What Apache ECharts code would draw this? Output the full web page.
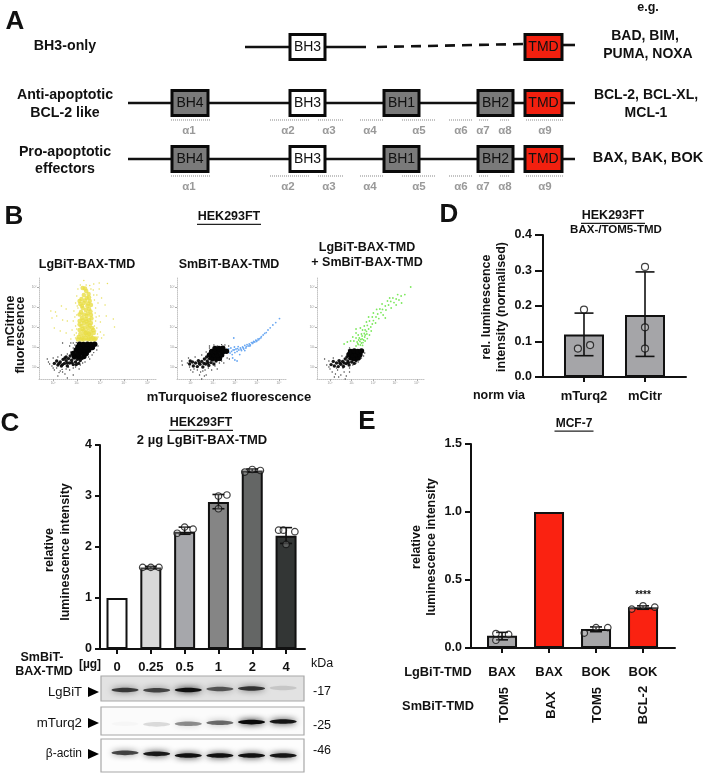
<!DOCTYPE html>
<html><head><meta charset="utf-8">
<style>html,body{margin:0;padding:0;background:#fff}#c{width:705px;height:774px}</style>
<script src="https://cdn.jsdelivr.net/npm/echarts@6/dist/echarts.min.js"></script>
</head><body><div id="c"></div>
<script>
// ---- Panel C
const doseLabels = ['0','0.25','0.5','1','2','4'];
const meansC = [1,1.6,2.3,2.88,3.5,2.22];
const lowC   = [1,1.58,2.25,2.75,3.47,2.07];
const highC  = [1,1.62,2.39,3.03,3.53,2.38];
const colorsC = ['#ffffff','#d9d9d9','#a6a7ab','#858585','#646665','#333635'];
const pointsC = [[0.76,1.6],[1,1.6],[1.24,1.6],[1.78,2.27],[2,2.39],[2.25,2.35],[3,2.75],[3,3.0],[3.25,3.02],[3.78,3.47],[4,3.52],[4.24,3.5],[4.78,2.33],[4.92,2.33],[5,2.05],[5.26,2.3]];
// ---- Panel D
const normLabels = ['mTurq2','mCitr'];
const meansD = [0.12,0.175];
const lowD   = [0.06,0.058];
const highD  = [0.18,0.296];
const pointsD = [[-0.1,0.08],[0.1,0.09],[0,0.19],[1,0.31],[1,0.14],[1,0.08]];
// ---- Panel E
const lgbitLabels = ['BAX','BAX','BOK','BOK'];
const smbitLabels = ['TOM5','BAX','TOM5','BCL-2'];
const meansE = [0.09,1,0.14,0.3];
const lowE   = [0.06,1,0.12,0.285];
const highE  = [0.115,1,0.155,0.31];
const colorsE = ['#a6a6a8','#fa2211','#a6a6a8','#fa2211'];
const pointsE = [[-0.13,0.057],[-0.13,0.106],[0.14,0.1],[1.75,0.11],[2,0.15],[2.25,0.15],[2.76,0.286],[3,0.31],[3.25,0.3]];
// ---- Panel A
const rowsY = [47,103,159];
const domainNames = ['BH3','TMD','BH4','BH3','BH1','BH2','TMD','BH4','BH3','BH1','BH2','TMD'];
const domainRows  = [0,0,1,1,1,1,1,2,2,2,2,2];
const domainStart = [290,525,172,290,384,478,525,172,290,384,478,525];
const domainEnd   = [325,562,208,325,419,513,562,208,325,419,513,562];
const domainFill = {BH3:'#ffffff',TMD:'#f2200f',BH4:'#7a7a7a',BH1:'#7a7a7a',BH2:'#7a7a7a'};
const backbones = [[245,47,366,47,0],[377,47,524,44,1],[562,45,575,45,0],[128,103,575,103,0],[128,159,575,159,0]];
const helixNames = ['α1','α2','α3','α4','α5','α6','α7','α8','α9'];
const helixStart = [171,270,318,360,402,449,479,500,526];
const helixEnd   = [210,310,343,383,436,472,489,510,564];
const helixLabelX= [189,288,329,370,419,461,483,505,545];
const helixRowsY = [120,176];
// ---- Panel B flow cytometry, decades
const decadeLabels = {2:'10²',3:'10³',4:'10⁴',5:'10⁵',6:'10⁶'};
const yellowCore = [[3.25,5.95],[3.4,5.8],[3.3,5.6],[3.5,5.65],[3.2,5.4],[3.42,5.45],[3.55,5.3],[3.3,5.2],[3.15,5.15],[3.45,5.05],[3.6,5.1],[3.25,4.95],[3.38,4.85],[3.52,4.9],[3.18,4.75],[3.3,4.62],[3.46,4.68],[3.6,4.6],[3.22,4.45],[3.38,4.4],[3.52,4.35],[3.12,4.3],[3.3,4.2],[3.45,4.15],[3.6,4.2],[3.2,4.05],[3.35,3.98],[3.5,3.95],[3.65,3.95],[3.12,3.85],[3.28,3.8],[3.42,3.78],[3.58,3.75],[3.72,3.7],[3.15,3.65],[3.3,3.6],[3.45,3.6],[3.6,3.55],[3.08,3.5],[3.22,3.45],[3.38,3.45],[3.52,3.42],[3.68,3.45],[3.8,3.42],[3.05,3.38],[3.3,3.38],[3.48,3.38],[3.2,3.38],[3.62,3.38],[3.75,3.38],[3.35,5.92],[3.52,5.48],[3.12,5.3],[3.35,5.32],[3.48,5.18],[3.22,5.05],[3.58,4.78],[3.42,4.55],[3.12,4.62],[3.25,4.32],[3.62,4.42],[3.12,4.12],[3.42,4.28],[3.55,4.08],[3.25,3.9],[3.7,3.85],[3.38,3.7],[3.52,3.65]];
const yellowSparse = [[3.3,6.32],[3.15,6.1],[3.55,6.08],[3.72,6.15],[3.95,6.2],[4.3,6.18],[3.05,5.9],[3.7,5.85],[3.85,5.6],[3.95,5.9],[3.0,5.55],[2.95,5.2],[3.75,5.35],[3.9,5.2],[4.05,5.45],[4.2,5.1],[3.8,4.95],[2.88,4.8],[3.0,4.6],[3.78,4.7],[3.95,4.55],[2.55,4.9],[2.35,5.05],[1.9,4.8],[2.1,4.75],[2.15,4.55],[1.95,4.45],[2.4,4.35],[2.6,4.3],[2.85,4.3],[2.95,4.05],[3.8,4.3],[4.0,4.25],[4.25,4.55],[4.55,4.4],[4.6,4.0],[2.05,3.95],[2.3,3.8],[2.55,3.7],[2.8,3.85],[2.9,3.6],[3.85,3.95],[4.0,3.75],[4.15,3.6],[2.95,3.45],[2.75,3.4],[3.9,3.5],[4.05,3.45],[3.0,3.9],[3.75,4.05],[3.05,4.95],[3.6,5.9],[3.4,6.1],[3.8,3.8],[2.92,4.5],[3.02,5.05],[3.72,5.6],[3.82,4.5],[3.88,3.65],[2.98,3.7]];
const blackCore1 = [[2.9,2.52],[3.1,2.49],[3.3,2.53],[2.85,2.68],[3.05,2.66],[3.2,2.7],[3.4,2.67],[2.98,2.85],[3.16,2.83],[3.32,2.86],[3.5,2.84],[3.05,3.0],[3.2,3.02],[3.38,2.99],[3.55,3.01],[3.66,2.98],[3.12,3.14],[3.28,3.13],[3.45,3.14],[3.6,3.13],[3.76,3.14]];
const blackLow1 = [[2.05,2.18],[2.15,2.3],[2.2,2.1],[2.3,2.25],[2.35,2.05],[2.42,2.38],[2.48,2.18],[2.55,2.32],[2.6,2.05],[2.65,2.42],[2.7,2.2],[2.78,2.34],[2.85,2.12],[2.88,2.45],[2.95,2.25],[3.02,2.38],[3.08,2.18],[3.15,2.32],[2.4,2.12],[2.6,2.2],[2.8,2.22],[2.98,2.12],[3.22,2.42],[2.25,2.18],[2.5,2.45],[2.72,2.55],[2.55,2.5]];
const blackSparse1 = [[1.75,2.4],[1.85,2.15],[1.95,2.05],[2.0,2.45],[2.05,1.85],[2.15,1.95],[2.2,2.5],[2.3,1.8],[2.4,1.75],[2.35,2.6],[2.5,1.65],[2.55,1.9],[2.6,2.65],[2.7,1.85],[2.75,2.75],[2.85,1.95],[2.85,2.95],[2.95,2.0],[2.92,3.1],[2.98,3.22],[3.15,2.1],[2.85,3.2],[3.25,2.2],[2.7,3.05],[2.75,3.2],[2.4,3.2],[3.55,2.4],[3.65,2.6],[3.85,2.85],[3.9,3.05],[2.2,1.55],[2.6,1.45],[2.85,1.6],[3.1,1.9],[1.8,2.25],[2.0,1.95],[2.25,1.72],[2.65,2.0],[2.38,1.88],[3.35,2.25],[3.5,2.5],[3.72,2.72]];
const blackCore2 = [[2.95,2.44],[3.15,2.42],[3.3,2.43],[2.85,2.6],[3.05,2.62],[3.22,2.59],[3.4,2.6],[2.95,2.78],[3.12,2.77],[3.3,2.8],[3.48,2.77],[3.62,2.79],[3.1,2.93],[3.28,2.92],[3.45,2.94]];
const blackLow2 = [[1.95,2.15],[2.08,2.25],[2.12,2.05],[2.22,2.2],[2.3,2.02],[2.35,2.32],[2.42,2.14],[2.5,2.28],[2.55,2.0],[2.62,2.4],[2.68,2.15],[2.75,2.3],[2.82,2.08],[2.85,2.42],[2.92,2.22],[3.0,2.35],[3.05,2.15],[3.15,2.3],[2.38,2.2],[2.6,2.18],[2.78,2.2],[1.98,2.3],[2.72,2.5]];
const blackSparse2 = [[1.6,2.3],[1.62,2.1],[1.9,2.45],[1.95,2.0],[2.0,1.85],[2.1,1.75],[2.2,2.5],[2.3,1.85],[2.4,1.6],[2.5,2.6],[2.55,1.8],[2.65,1.85],[2.7,2.75],[2.8,1.95],[2.85,2.95],[2.85,3.05],[3.1,2.05],[3.2,3.05],[3.3,2.2],[3.4,3.12],[3.55,3.1],[3.65,2.45],[3.72,3.05],[3.75,2.4],[3.2,1.9],[2.35,1.3],[2.5,1.4],[2.7,1.6],[3.4,2.3],[3.5,2.2],[1.85,2.2],[2.15,1.9],[2.45,1.75],[3.05,3.1],[2.95,1.85],[2.62,1.55]];
const blueSparse = [[3.72,2.9],[3.78,2.7],[3.82,2.95],[3.88,2.62],[3.92,2.85],[3.98,3.0],[4.0,2.72],[4.05,2.9],[4.1,2.78],[4.15,3.02],[4.18,2.85],[4.22,2.62],[4.25,2.95],[4.3,2.82],[4.35,3.0],[4.4,2.9],[4.45,3.08],[4.5,2.95],[4.55,3.12],[4.6,3.05],[4.65,3.15],[4.7,3.1],[4.75,3.22],[4.8,3.18],[4.85,3.28],[4.9,3.25],[4.95,3.34],[5.0,3.32],[5.05,3.4],[5.12,3.42],[5.2,3.52],[5.28,3.6],[5.35,3.68],[5.42,3.72],[5.5,3.85],[5.6,3.96],[5.72,4.1],[5.85,4.22],[6.02,4.42],[3.95,3.45],[4.0,2.35],[3.9,2.45],[4.1,2.3],[4.45,2.82],[3.85,2.78],[3.98,2.86],[4.12,2.92],[4.28,2.88],[4.38,2.95],[4.52,3.02],[4.68,3.05],[4.82,3.22],[4.98,3.28],[5.08,3.36],[5.18,3.46]];
const blackCore3 = [[2.98,2.46],[3.15,2.44],[3.3,2.45],[2.88,2.62],[3.05,2.6],[3.22,2.63],[3.38,2.61],[2.95,2.78],[3.12,2.8],[3.28,2.78],[3.45,2.8]];
const blackLow3 = [[2.05,2.12],[2.15,2.28],[2.2,2.05],[2.3,2.2],[2.38,2.02],[2.42,2.32],[2.5,2.14],[2.58,2.28],[2.62,2.03],[2.7,2.4],[2.75,2.17],[2.82,2.3],[2.88,2.1],[2.92,2.42],[3.0,2.25],[3.08,2.36],[3.12,2.18],[3.2,2.32],[2.45,2.2],[2.65,2.2],[2.85,2.22],[2.78,2.5]];
const blackSparse3 = [[1.75,2.4],[1.85,2.1],[1.95,2.3],[2.0,1.9],[2.1,1.75],[2.15,2.45],[2.25,1.65],[2.35,1.85],[2.4,1.5],[2.5,1.6],[2.55,2.55],[2.65,1.75],[2.7,1.4],[2.8,2.65],[2.9,1.95],[2.85,2.85],[3.05,2.1],[2.9,2.95],[3.3,2.25],[3.45,2.45],[3.6,2.7],[1.9,1.1],[2.05,1.3],[2.6,1.95],[2.3,1.95],[2.75,1.55],[2.5,1.35],[2.2,1.5],[2.9,1.75],[1.95,2.0],[3.2,2.2],[3.55,2.55]];
const greenDots = [[3.2,3.05],[3.3,3.12],[3.4,3.1],[3.5,3.08],[3.25,3.25],[3.38,3.28],[3.52,3.22],[3.62,3.3],[3.1,3.3],[3.2,3.45],[3.35,3.45],[3.48,3.4],[3.6,3.5],[3.72,3.42],[2.95,3.3],[2.8,3.25],[2.65,3.15],[3.05,3.5],[3.3,3.6],[3.45,3.65],[3.58,3.68],[3.7,3.65],[3.82,3.6],[3.2,3.7],[3.5,3.85],[3.62,3.85],[3.78,3.9],[3.9,3.8],[3.4,3.95],[3.58,4.05],[3.72,4.08],[3.88,4.0],[3.95,4.15],[3.68,4.25],[3.82,4.3],[4.0,4.32],[4.1,4.2],[3.78,4.5],[3.95,4.5],[4.12,4.5],[4.25,4.42],[4.0,4.7],[4.2,4.65],[4.35,4.72],[4.45,4.6],[4.15,4.88],[4.3,4.9],[4.42,4.88],[4.58,4.85],[4.4,5.15],[4.55,5.05],[4.7,5.1],[4.82,4.95],[4.65,5.3],[4.8,5.28],[4.95,5.22],[5.05,5.1],[4.9,5.45],[5.05,5.4],[5.18,5.35],[5.3,5.2],[5.12,5.62],[5.28,5.55],[5.45,5.62],[5.72,6.0],[4.55,4.45],[3.2,3.9],[4.75,5.45],[3.28,3.18],[3.45,3.2],[3.42,3.38],[3.55,3.35],[3.32,3.35],[3.48,3.55],[3.62,3.6],[3.68,3.78]];
// ---- Blots
const laneIndex = [0,1,2,3,4,5];
const lgbitBand = [0.72,0.68,0.95,0.6,0.75,0.12];
const lgbitY = [0.56,0.57,0.56,0.52,0.5,0.48];
const mturqBand = [0.02,0.13,0.42,0.55,1,0.92];
const mturqY = [0.6,0.62,0.6,0.56,0.54,0.52];
const actinBand = [0.7,0.9,0.95,0.95,0.95,0.92];
const actinY = [0.42,0.45,0.5,0.5,0.5,0.5];

const FF = '"Liberation Sans",Arial,sans-serif';
const graphics = [];
function T(text,x,y,o={}){
  graphics.push({type:'text',x,y,rotation:o.rot||0,z:50,style:{text,x:0,y:0,fill:o.color||'#111',align:o.align||'center',verticalAlign:'middle',
    font:`${o.weight||'bold'} ${o.size||12}px ${FF}`}});
  if(o.ul){graphics.push({type:'rect',z:50,shape:{x:x-o.ul/2,y:y+(o.size||12)/2+0.5,width:o.ul,height:1.2},style:{fill:'#222'}});}
}
function tri(x,y){graphics.push({type:'polygon',z:50,shape:{points:[[x,y-5],[x+11,y],[x,y+5]]},style:{fill:'#000'}});}
T('A',15,22,{size:26});T('B',14,217,{size:26});T('C',10,424,{size:26});T('D',449,215,{size:26});T('E',367,422,{size:26});
// A
T('BH3-only',65,46,{size:14.2});T('Anti-apoptotic',65,95,{size:14.2});T('BCL-2 like',65,113,{size:14.2});
T('Pro-apoptotic',65,152,{size:14.2});T('effectors',65,169,{size:14.2});
T('e.g.',648,8,{size:12.5});T('BAD, BIM,',645,36,{size:14});T('PUMA, NOXA',648,54,{size:14});
T('BCL-2, BCL-XL,',646,95,{size:14});T('MCL-1',646,113,{size:14});T('BAX, BAK, BOK',648,158,{size:14.5});
// B
T('HEK293FT',229,217,{size:12.5,ul:64});
T('LgBiT-BAX-TMD',87,265,{size:12.5});T('SmBiT-BAX-TMD',229,265,{size:12.5});
T('LgBiT-BAX-TMD',367,248,{size:12.5});T('+ SmBiT-BAX-TMD',367,263,{size:12.5});
T('mTurquoise2 fluorescence',229,397,{size:13});
T('mCitrine',11,321,{size:12.5,rot:Math.PI/2});T('fluorescence',21,335,{size:12.5,rot:Math.PI/2});
// D
T('HEK293FT',613,216,{size:12.5,ul:64});T('BAX-/TOM5-TMD',616,230,{size:11.5});
T('rel. luminescence',487,307,{size:12.5,rot:Math.PI/2});T('intensity (normalised)',502,307,{size:12.5,rot:Math.PI/2});
T('norm via',499,396,{size:12.5});
// C
T('HEK293FT',201,423,{size:12.5,ul:64});T('2 µg LgBiT-BAX-TMD',202,440,{size:13});
T('relative',50,550,{size:12.5,rot:Math.PI/2});T('luminescence intensity',66,552,{size:12.5,rot:Math.PI/2});
T('SmBiT-',42,658,{size:12.5});T('BAX-TMD',44,672,{size:12.5});T('[µg]',90,665,{size:12});
T('kDa',322,664,{size:12.5,weight:'normal'});
T('LgBiT',82,692,{size:13,weight:'normal',align:'right'});T('mTurq2',82,723,{size:13.3,weight:'normal',align:'right'});T('β-actin',82,754,{size:12,weight:'normal',align:'right'});
tri(88,692);tri(88,723);tri(88,754);
T('-17',313,692,{size:12.5,weight:'normal',align:'left'});T('-25',313,726,{size:12.5,weight:'normal',align:'left'});T('-46',313,751,{size:12.5,weight:'normal',align:'left'});
// E
T('MCF-7',574,424,{size:12,ul:39});
T('relative',417,547,{size:12.5,rot:Math.PI/2});T('luminescence intensity',432,547,{size:12.5,rot:Math.PI/2});
T('****',643,595,{size:10});
T('LgBiT-TMD',438,672,{size:12.8});T('SmBiT-TMD',438,706,{size:12.8});
const smX=[504,551,597,643];
smbitLabels.forEach((s,i)=>T(s,smX[i],705,{size:13,rot:Math.PI/2}));

const grids=[],xAxes=[],yAxes=[],series=[];
function barGrid(l,t,w,h,xmin,xmax,ymax,step,labels,decimals,labelMargin,tickLen){
  grids.push({left:l,top:t,width:w,height:h});
  const ticks=labels.map((_,i)=>i);
  xAxes.push({type:'value',gridIndex:grids.length-1,min:xmin,max:xmax,splitLine:{show:false},
    axisLine:{onZero:false,lineStyle:{color:'#111',width:2}},
    axisTick:{length:5,lineStyle:{color:'#111',width:2},customValues:ticks},
    axisLabel:{customValues:ticks,formatter:v=>labels[Math.round(v)],color:'#111',fontWeight:'bold',fontSize:13,fontFamily:FF,margin:labelMargin}});
  yAxes.push({type:'value',gridIndex:grids.length-1,min:0,max:ymax,interval:step,splitLine:{show:false},
    axisLine:{show:true,onZero:false,lineStyle:{color:'#111',width:2}},axisTick:{show:true,length:tickLen,lineStyle:{color:'#111',width:2}},
    axisLabel:{color:'#111',fontWeight:'bold',fontSize:12.5,fontFamily:FF,margin:tickLen+3,formatter:v=>v.toFixed(decimals)}});
  return grids.length-1;
}
function barSeries(g,means,colors,low,high,points,barW,capW,sym){
  series.push({type:'bar',xAxisIndex:g,yAxisIndex:g,barWidth:barW,z:2,silent:true,
    data:means.map((m,i)=>({value:[i,m],itemStyle:{color:colors[i],borderColor:'#111',borderWidth:2}}))});
  series.push({type:'custom',xAxisIndex:g,yAxisIndex:g,z:3,silent:true,encode:{x:0,y:[1,2]},
    data:means.map((m,i)=>[i,low[i],high[i]]).filter(d=>d[2]>d[1]),
    renderItem(p,api){
      const a=api.coord([api.value(0),api.value(1)]),b=api.coord([api.value(0),api.value(2)]);
      const st={stroke:'#111',lineWidth:1.6,fill:null};
      return {type:'group',children:[
        {type:'line',shape:{x1:a[0],y1:a[1],x2:b[0],y2:b[1]},style:st},
        {type:'line',shape:{x1:a[0]-capW/2,y1:a[1],x2:a[0]+capW/2,y2:a[1]},style:st},
        {type:'line',shape:{x1:b[0]-capW/2,y1:b[1],x2:b[0]+capW/2,y2:b[1]},style:st}]};
    }});
  series.push({type:'scatter',xAxisIndex:g,yAxisIndex:g,z:4,silent:true,symbol:'circle',symbolSize:sym,
    data:points,itemStyle:{color:'rgba(255,255,255,0.25)',borderColor:'#111',borderWidth:1.2}});
}
// C
let g=barGrid(100,445,205,204,-0.503,5.56,4,1,doseLabels,0,12,5);
barSeries(g,meansC,colorsC,lowC,highC,pointsC,21,12,6.5);
// D
g=barGrid(543,235,143,142,-0.672,1.672,0.4,0.1,normLabels,1,13,8);
barSeries(g,meansD,['#a5a5a8','#a5a5a8'],lowD,highD,pointsD,40,19,7);
// E
g=barGrid(471,444,204,204,-0.66,3.68,1.5,0.5,lgbitLabels,1,18,6);
barSeries(g,meansE,colorsE,lowE,highE,pointsE,30,12,6.5);

// B flow grids
function flowGrid(l,r,xmin,xmax,layers){
  grids.push({left:l,top:278,width:r-l,height:101});
  const idx=grids.length-1, tv=[2,3,4,5,6];
  const base=(min,max)=>({type:'value',gridIndex:idx,min,max,splitLine:{show:false},
    axisLine:{show:true,onZero:false,lineStyle:{color:'#c4c4c4',type:'dotted',width:1}},
    axisTick:{show:true,length:2,customValues:tv,lineStyle:{color:'#aaa',width:1}},
    axisLabel:{customValues:tv,formatter:v=>decadeLabels[v],fontSize:3.5,color:'#999',margin:2,fontFamily:FF}});
  xAxes.push(base(xmin,xmax));yAxes.push(base(1.4,6.45));
  layers.forEach(([data,size,color,op],k)=>series.push({type:'scatter',xAxisIndex:idx,yAxisIndex:idx,z:5+k,silent:true,symbolSize:size,
    data,itemStyle:{color,opacity:op}}));
}
flowGrid(39,157,1.4,6.4,[[yellowSparse,1.5,'#e6dc4a',0.9],[yellowCore,4.5,'#e8dd45',0.8],[blackSparse1,1.4,'#222',0.9],[blackLow1,3.4,'#0a0a0a',0.95],[blackCore1,5.5,'#050505',1]]);
flowGrid(177,287,1.38,6.36,[[blueSparse,1.8,'#6aa8f2',1],[blackSparse2,1.4,'#222',0.9],[blackLow2,3.4,'#0a0a0a',0.95],[blackCore2,5.5,'#050505',1]]);
flowGrid(317,425,1.4,6.38,[[greenDots,1.8,'#7ee85f',1],[blackSparse3,1.4,'#222',0.9],[blackLow3,3.4,'#0a0a0a',0.95],[blackCore3,5.5,'#050505',1]]);

// A schematic: hidden grid in page units
grids.push({left:0,top:0,width:705,height:200});
const aIdx=grids.length-1;
const hidden=o=>Object.assign({type:'value',gridIndex:aIdx,show:false,splitLine:{show:false}},o);
xAxes.push(hidden({min:0,max:705}));yAxes.push(hidden({min:0,max:200,inverse:true}));
series.push({type:'custom',xAxisIndex:aIdx,yAxisIndex:aIdx,z:1,silent:true,data:backbones,
  renderItem(p,api){const a=api.coord([api.value(0),api.value(1)]),b=api.coord([api.value(2),api.value(3)]);
    return {type:'line',shape:{x1:a[0],y1:a[1],x2:b[0],y2:b[1]},style:{stroke:'#111',lineWidth:2.6,lineDash:api.value(4)?[10,7]:null,fill:null}};}});
const helixData=[];helixRowsY.forEach(y=>helixNames.forEach((n,i)=>helixData.push([helixStart[i],helixEnd[i],y,helixLabelX[i]])));
series.push({type:'custom',xAxisIndex:aIdx,yAxisIndex:aIdx,z:1,silent:true,data:helixData,
  renderItem(p,api){const a=api.coord([api.value(0),api.value(2)]),b=api.coord([api.value(1),api.value(2)]),c=api.coord([api.value(3),api.value(2)+11]);
    return {type:'group',children:[
      {type:'line',shape:{x1:a[0],y1:a[1],x2:b[0],y2:b[1]},style:{stroke:'#888',lineWidth:1,lineDash:[1,1],fill:null}},
      {type:'text',style:{text:helixNames[p.dataIndex%9],x:c[0],y:c[1],align:'center',verticalAlign:'middle',fill:'#999',font:`bold 11.5px ${FF}`}}]};}});
series.push({type:'custom',xAxisIndex:aIdx,yAxisIndex:aIdx,z:2,silent:true,
  data:domainNames.map((n,i)=>[domainStart[i],domainEnd[i],rowsY[domainRows[i]]]),
  renderItem(p,api){const n=domainNames[p.dataIndex];const a=api.coord([api.value(0),api.value(2)-12.5]),b=api.coord([api.value(1),api.value(2)+12.5]);
    return {type:'group',children:[
      {type:'rect',shape:{x:a[0],y:a[1],width:b[0]-a[0],height:b[1]-a[1]},style:{fill:domainFill[n],stroke:'#0a0a0a',lineWidth:3}},
      {type:'text',style:{text:n,x:(a[0]+b[0])/2,y:(a[1]+b[1])/2,align:'center',verticalAlign:'middle',fill:'#111',font:`14px ${FF}`}}]};}});

// Blots
function blot(top,h,bg,band,yFrac,thick){
  grids.push({left:101,top,width:203,height:h,show:true,backgroundColor:bg,borderColor:'#a8a8a8',borderWidth:1.2,z:0});
  const i=grids.length-1;
  xAxes.push({type:'value',gridIndex:i,show:false,min:-0.76,max:5.66,splitLine:{show:false}});
  yAxes.push({type:'value',gridIndex:i,show:false,min:0,max:1,inverse:true,splitLine:{show:false}});
  series.push({type:'custom',xAxisIndex:i,yAxisIndex:i,z:2,silent:true,data:laneIndex.map(l=>[l,yFrac[l],band[l]]),
    renderItem(p,api){const c=api.coord([api.value(0),api.value(1)]),v=api.value(2);
      const col=`rgba(10,10,10,${v})`;
      return {type:'ellipse',shape:{cx:c[0],cy:c[1],rx:13.5,ry:thick},style:{fill:col,shadowColor:col,shadowBlur:6}};}});
}
blot(676,25,'#e2e2e2',lgbitBand,lgbitY,2.2);
blot(707,28,'#fbfbfb',mturqBand,mturqY,2.3);
blot(739,33,'#fdfdfd',actinBand,actinY,2.3);

const chart=echarts.init(document.getElementById('c'),null,{renderer:'canvas'});
chart.setOption({animation:false,backgroundColor:'#fff',textStyle:{fontFamily:FF},tooltip:{show:false},grid:grids,xAxis:xAxes,yAxis:yAxes,series,graphic:{elements:graphics}});
</script></body></html>
